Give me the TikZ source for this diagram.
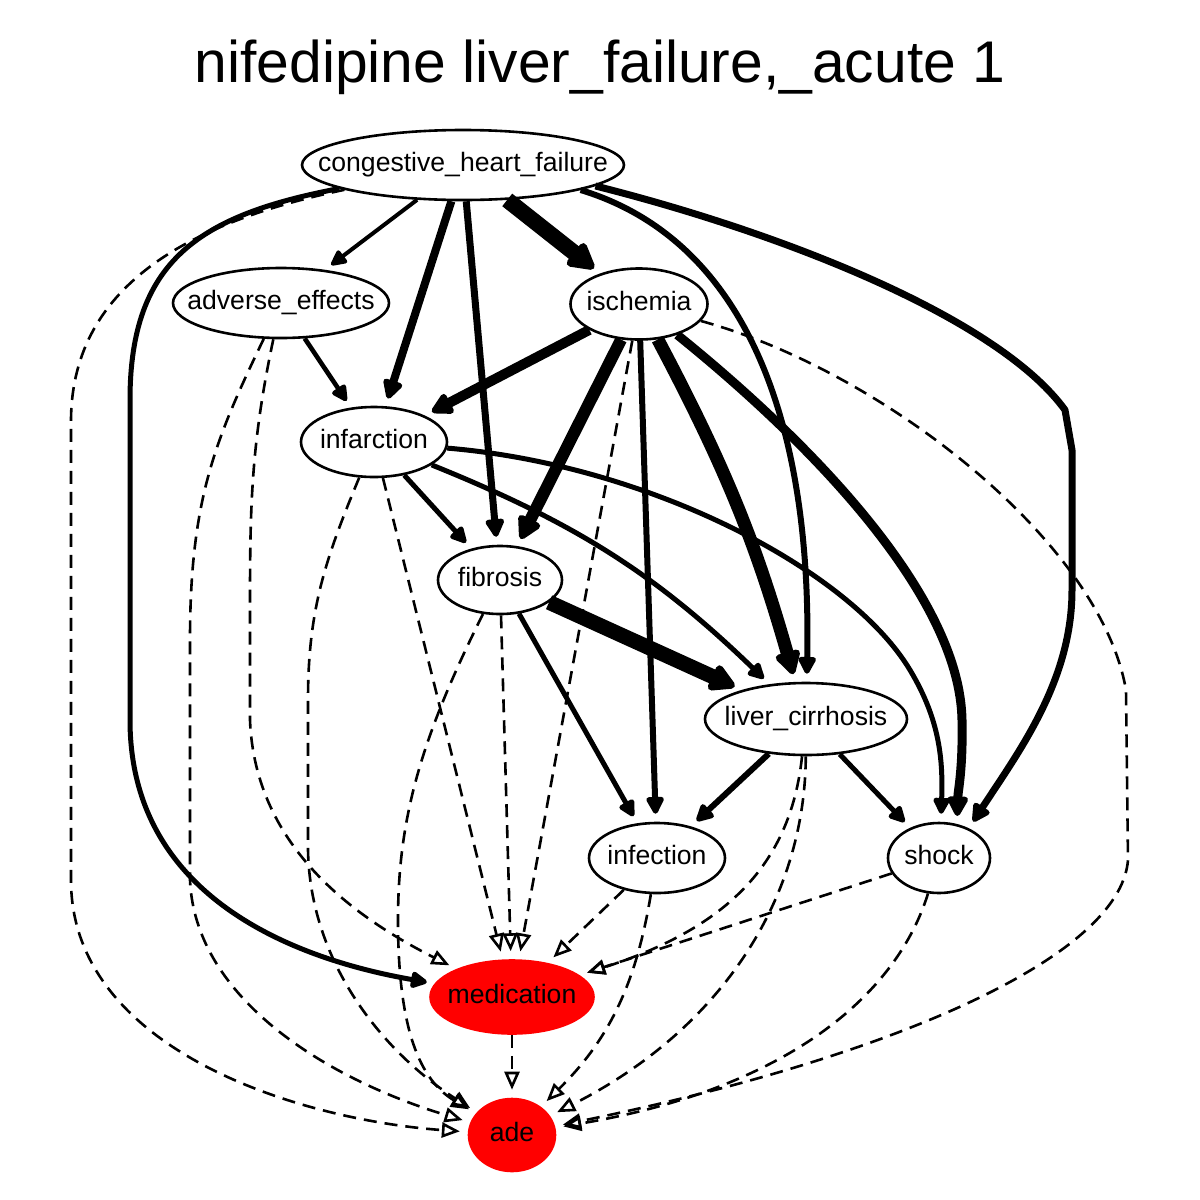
\documentclass[tikz,border=0pt]{standalone}
\usepackage{fontspec}
\usepackage{tikz}
\usetikzlibrary{arrows.meta, shapes.geometric}
\newfontfamily\labelfont{Liberation Sans}
\newcommand{\inbox}[1]{\makebox[0pt]{\raisebox{-1pt}{\strut #1}}}

\begin{document}
\begin{tikzpicture}[
  x=0.5pt, y=-0.5pt,
  varnode/.style={
    ellipse,
    draw,
    line width=1.3pt,
    inner sep=0pt,
    font=\labelfont\fontsize{13.3}{16}\selectfont
  },
  outcome/.style={varnode, draw=red, fill=red},
  link/.style={line width=#1, line join=round, shorten >=4pt,
    -{Triangle[length=7pt 1, width=6pt 1.2, round]}},
  link/.default=2.5pt,
  weak/.style={line width=1.3pt, dash pattern=on 6.5pt off 4pt, shorten >=4pt,
    -{Triangle[open, length=9pt, width=7.5pt]}}
]
\useasboundingbox (0,0) rectangle (1200,1200);

% Titel
\node[font=\labelfont\fontsize{29.4}{34}\selectfont, anchor=base] (title) at (600,82)
  {nifedipine liver\_failure,\_acute 1};

% Knoten
\node[varnode, minimum width=161pt, minimum height=35pt] (chf) at (463,165) {\inbox{congestive\_heart\_failure}};
\node[varnode, minimum width=108pt, minimum height=35pt] (adv) at (281,303) {\inbox{adverse\_effects}};
\node[varnode, minimum width=68.5pt, minimum height=35.5pt] (isc) at (639,304) {\inbox{ischemia}};
\node[varnode, minimum width=73pt, minimum height=35pt] (inf) at (374,442) {\inbox{infarction}};
\node[varnode, minimum width=62pt, minimum height=34pt] (fib) at (500,580) {\inbox{fibrosis}};
\node[varnode, minimum width=101pt, minimum height=36pt] (lc) at (806,719) {\inbox{liver\_cirrhosis}};
\node[varnode, minimum width=68pt, minimum height=35pt] (infct) at (657,858) {\inbox{infection}};
\node[varnode, minimum width=51pt, minimum height=35pt] (shock) at (939,858) {\inbox{shock}};
\node[outcome, minimum width=81.5pt, minimum height=36.5pt] (med) at (512,997) {\inbox{medication}};
\node[outcome, minimum width=43pt, minimum height=36pt] (ade) at (512,1135) {\inbox{ade}};

% congestive_heart_failure
\draw[link=2pt] (chf) -- (adv);
\draw[link=4pt] (chf) -- (inf);
\draw[link=3.5pt] (chf) -- (fib);
\draw[link=8pt] (chf) -- (isc);
\draw[link=3pt] (chf.-12) .. controls (745,240) and (812,420) .. (lc);
\draw[link=3.5pt] (chf.-9) .. controls (790,235) and (1000,320) .. (1065,410) -- (1072,450)
  -- (1072,590) .. controls (1072,680) and (1020,750) .. (shock.45);
\draw[link=2.5pt] (chf) .. controls (200,215) and (130,260) .. (130,400) -- (130,720)
  .. controls (130,900) and (300,960) .. (med);
\draw[weak] (chf) .. controls (200,220) and (72,280) .. (71,420) -- (71,880)
  .. controls (71,1050) and (300,1120) .. (ade);

% adverse_effects
\draw[link=2.3pt] (adv) -- (inf);
\draw[weak] (adv) .. controls (252,440) and (250,500) .. (250,600) -- (250,720)
  .. controls (255,850) and (360,920) .. (med);
\draw[weak] (adv) .. controls (215,440) and (190,500) .. (190,640) -- (190,880)
  .. controls (195,1000) and (330,1080) .. (ade);

% ischemia
\draw[link=5pt] (isc) -- (inf);
\draw[link=6pt] (isc) -- (fib);
\draw[link=3pt] (isc) -- (infct);
\draw[link=6.5pt] (isc) to[bend left=6] (lc);
\draw[link=4.5pt] (isc) .. controls (820,450) and (960,600) .. (962,720)
  .. controls (963,770) and (958,790) .. (shock.62);
\draw[weak] (isc) -- (med);
\draw[weak] (isc) .. controls (880,370) and (1100,540) .. (1126,690) -- (1128,860)
  .. controls (1120,960) and (880,1060) .. (ade);

% infarction
\draw[link=2.5pt] (inf) -- (fib);
\draw[link=2.5pt] (inf) to[bend left=11] (lc);
\draw[link=2.5pt] (inf) .. controls (650,465) and (850,570) .. (910,670)
  .. controls (940,720) and (943,760) .. (shock.87);
\draw[weak] (inf) -- (med);
\draw[weak] (inf) .. controls (325,560) and (308,610) .. (308,700) -- (308,850)
  .. controls (310,960) and (380,1050) .. (ade);

% fibrosis
\draw[link=7.5pt] (fib) -- (lc);
\draw[link=2.5pt] (fib) -- (infct);
\draw[weak] (fib) -- (med);
\draw[weak] (fib) .. controls (420,740) and (398,820) .. (398,920)
  .. controls (398,1030) and (420,1080) .. (ade);

% liver_cirrhosis
\draw[link=3pt] (lc) -- (infct);
\draw[link=2.5pt] (lc) -- (shock);
\draw[weak] (lc) .. controls (790,870) and (720,930) .. (med);
\draw[weak] (lc) .. controls (805,900) and (720,1030) .. (ade);

% infection, shock, medication
\draw[weak] (infct) -- (med);
\draw[weak] (infct) to[bend left=18] (ade);
\draw[weak] (shock) -- (med);
\draw[weak] (shock) .. controls (895,1000) and (780,1090) .. (ade);
\draw[weak] (med) -- (ade);

\end{tikzpicture}
\end{document}
